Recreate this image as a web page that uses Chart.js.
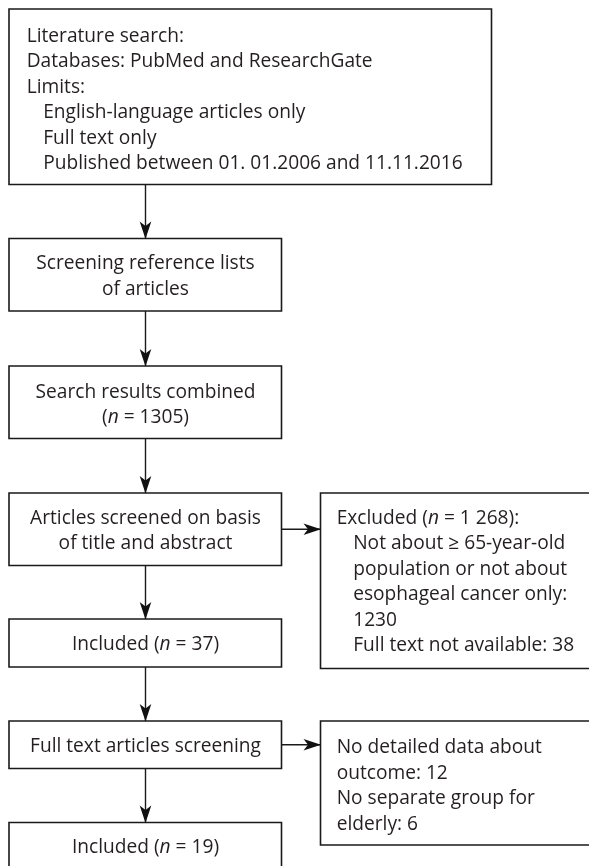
<!DOCTYPE html>
<html>
<head>
<meta charset="utf-8">
<script src="https://cdn.jsdelivr.net/npm/chart.js@4.4.1/dist/chart.umd.min.js"></script>
<style>
  html, body { margin: 0; padding: 0; background: #ffffff; }
  #wrap { width: 589px; height: 866px; }
</style>
</head>
<body>
<div id="wrap"><canvas id="c" width="589" height="866"></canvas></div>
<script>
// ---------------- DATA ----------------
const includedCounts = [1305, 37, 19];
const excludedTotal = "1 268";
const excludedReasons = [1230, 38];
const fullTextExcluded = [12, 6];

const mainSteps = [
  ["Literature search:", "Databases: PubMed and ResearchGate", "Limits:",
   "  English-language articles only", "  Full text only",
   "  Published between 01. 01.2006 and 11.11.2016"],
  ["Screening reference lists", "of articles"],
  ["Search results combined", "(_n_ = " + includedCounts[0] + ")"],
  ["Articles screened on basis", "of title and abstract"],
  ["Included (_n_ = " + includedCounts[1] + ")"],
  ["Full text articles screening"],
  ["Included (_n_ = " + includedCounts[2] + ")"]
];
const sideNotes = [
  ["Excluded (_n_ = " + excludedTotal + "):", "  Not about \u2265 65-year-old",
   "  population or not about", "  esophageal cancer only:",
   "  " + excludedReasons[0], "  Full text not available: " + excludedReasons[1]],
  ["No detailed data about", "outcome: " + fullTextExcluded[0],
   "No separate group for", "elderly: " + fullTextExcluded[1]]
];

// ---------------- LAYOUT ----------------
const W = 589, H = 866;
const LEFT_L = 9, LEFT_R = 281.5, AX = 145.5;
const TEXT_DY = 1.5;
const mainBoxes = [
  {l: 9,      t: 9,     r: 491.5, b: 184.5, ty: 35,    align: "left", tx: 26.7},
  {l: LEFT_L, t: 238.5, r: LEFT_R, b: 311,  ty: 262.5, align: "center"},
  {l: LEFT_L, t: 366,   r: LEFT_R, b: 438.5, ty: 391,  align: "center"},
  {l: LEFT_L, t: 493,   r: LEFT_R, b: 565.5, ty: 517,  align: "center"},
  {l: LEFT_L, t: 619,   r: LEFT_R, b: 667,  ty: 643,   align: "center"},
  {l: LEFT_L, t: 721,   r: LEFT_R, b: 768.5, ty: 745,  align: "center"},
  {l: LEFT_L, t: 822.5, r: LEFT_R, b: 880,  ty: 846.5, align: "center"}
];
const sideBoxes = [
  {l: 320.5, t: 493, r: 600, b: 668.5, ty: 517, align: "left", tx: 336.7, from: 3},
  {l: 320.5, t: 721, r: 600, b: 845,   ty: 746.5, align: "left", tx: 336.7, from: 5}
];
const LINE_H = 25.4;
const INDENT = 16.5;
const INK = "#231f20";
const FONT_FAMILY = "'Open Sans', 'Noto Sans', sans-serif";

function fitFont() {
  const cv = document.createElement("canvas").getContext("2d");
  cv.font = "100px " + FONT_FAMILY;
  const w = cv.measureText("Databases: PubMed and ResearchGate").width;
  return 100 * 346 / w;
}
const FS = fitFont();

function rectData(b) {
  return [{x: b.l, y: b.t}, {x: b.r, y: b.t}, {x: b.r, y: b.b}, {x: b.l, y: b.b}, {x: b.l, y: b.t}];
}
const datasets = [];
mainBoxes.concat(sideBoxes).forEach(b => {
  datasets.push({data: rectData(b), showLine: true, borderColor: "#1a1a1a", borderWidth: 1.6,
    pointRadius: 0, fill: false, tension: 0, borderJoinStyle: "miter", borderCapStyle: "square"});
});
const arrows = [];
for (let i = 0; i < mainBoxes.length - 1; i++) {
  arrows.push({x1: AX, y1: mainBoxes[i].b, x2: AX, y2: mainBoxes[i + 1].t});
}
sideBoxes.forEach(s => {
  const b = mainBoxes[s.from];
  const y = (b.t + b.b) / 2;
  arrows.push({x1: b.r, y1: y, x2: s.l, y2: y});
});
arrows.forEach(a => {
  datasets.push({data: [{x: a.x1, y: a.y1}, {x: a.x2, y: a.y2}], showLine: true,
    borderColor: "#1a1a1a", borderWidth: 1.4, pointRadius: 0, fill: false});
});

function drawRuns(ctx, text, x, y, align) {
  const parts = text.split("_");
  const runs = parts.map((p, i) => ({t: p, it: i % 2 === 1}));
  let total = 0;
  runs.forEach(r => {
    ctx.font = (r.it ? "italic " : "") + FS.toFixed(2) + "px " + FONT_FAMILY;
    r.w = ctx.measureText(r.t).width; total += r.w;
  });
  let cx = align === "center" ? x - total / 2 : x;
  runs.forEach(r => {
    ctx.font = (r.it ? "italic " : "") + FS.toFixed(2) + "px " + FONT_FAMILY;
    ctx.fillText(r.t, cx, y);
    cx += r.w;
  });
}

const flowPlugin = {
  id: "flow",
  afterDatasetsDraw(chart) {
    const ctx = chart.ctx, xs = chart.scales.x, ys = chart.scales.y;
    ctx.save();
    ctx.fillStyle = "#111";
    arrows.forEach(a => {
      const tx = xs.getPixelForValue(a.x2), ty = ys.getPixelForValue(a.y2);
      const fx = xs.getPixelForValue(a.x1), fy = ys.getPixelForValue(a.y1);
      const ang = Math.atan2(ty - fy, tx - fx);
      const L = 17, Wd = 5.8, N = 12.5;
      ctx.save();
      ctx.translate(tx, ty); ctx.rotate(ang);
      ctx.beginPath();
      ctx.moveTo(0.5, 0);
      ctx.lineTo(-L, -Wd);
      ctx.lineTo(-N, 0);
      ctx.lineTo(-L, Wd);
      ctx.closePath();
      ctx.fill();
      ctx.restore();
    });
    ctx.fillStyle = INK;
    ctx.textBaseline = "middle";
    ctx.textAlign = "left";
    const all = mainBoxes.map((b, i) => ({b, lines: mainSteps[i]}))
      .concat(sideBoxes.map((b, i) => ({b, lines: sideNotes[i]})));
    all.forEach(({b, lines}) => {
      lines.forEach((ln, k) => {
        const y = ys.getPixelForValue(b.ty + TEXT_DY + k * LINE_H);
        if (b.align === "center") {
          drawRuns(ctx, ln, xs.getPixelForValue(AX), y, "center");
        } else {
          let ind = 0, t = ln;
          if (t.startsWith("  ")) { ind = INDENT; t = t.slice(2); }
          drawRuns(ctx, t, xs.getPixelForValue(b.tx + ind), y, "left");
        }
      });
    });
    ctx.restore();
  }
};

new Chart(document.getElementById("c"), {
  type: "scatter",
  data: {datasets},
  options: {
    responsive: false,
    devicePixelRatio: 1,
    animation: false,
    layout: {padding: 0},
    plugins: {legend: {display: false}, tooltip: {enabled: false}},
    scales: {
      x: {type: "linear", min: 0, max: W, display: false},
      y: {type: "linear", min: 0, max: H, reverse: true, display: false}
    }
  },
  plugins: [flowPlugin]
});
</script>
</body>
</html>
